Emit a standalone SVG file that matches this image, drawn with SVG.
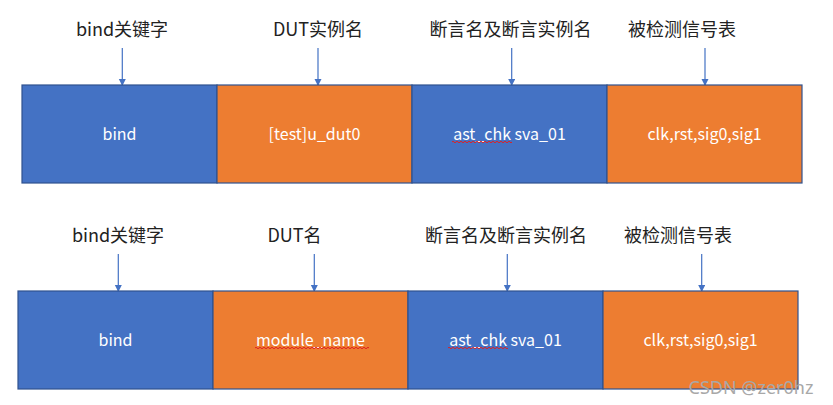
<svg xmlns="http://www.w3.org/2000/svg" width="833" height="405" viewBox="0 0 833 405">
<defs>
<marker id="ah" markerWidth="8" markerHeight="8" refX="6" refY="3.5" orient="auto" markerUnits="userSpaceOnUse">
<path d="M0,0 L7,3.5 L0,7 Z" fill="#4472C4"/>
</marker>
<style>
.blue{fill:#4472C4;stroke:#2F528F;stroke-width:1.2}
.orange{fill:#ED7D31;stroke:#2F528F;stroke-width:1.2}
.lbl{font-family:"Microsoft YaHei","Noto Sans CJK SC","Noto Sans",sans-serif;font-size:18px;fill:#222;text-anchor:middle}
.btxt{font-family:"Microsoft YaHei","Noto Sans CJK SC","Noto Sans",sans-serif;font-size:16px;fill:#fff;text-anchor:middle}
.arr{stroke:#4472C4;stroke-width:1.2;fill:none;marker-end:url(#ah)}
.sq{stroke:#E02020;stroke-width:1;fill:none}
</style>
</defs>
<rect width="833" height="405" fill="#fff"/>
<g id="labels-top">
<text class="lbl" x="122" y="36">bind关键字</text>
<text class="lbl" x="318" y="36">DUT实例名</text>
<text class="lbl" x="510.5" y="36">断言名及断言实例名</text>
<text class="lbl" x="682" y="36">被检测信号表</text>
</g>
<g id="labels-bottom">
<text class="lbl" x="118" y="242">bind关键字</text>
<text class="lbl" x="294.5" y="242">DUT名</text>
<text class="lbl" x="506" y="242">断言名及断言实例名</text>
<text class="lbl" x="678" y="242">被检测信号表</text>
</g>
<g id="connectors">
<line class="arr" x1="122.3" y1="48" x2="122.3" y2="85"/>
<line class="arr" x1="318" y1="48" x2="318" y2="85"/>
<line class="arr" x1="511.7" y1="48" x2="511.7" y2="85"/>
<line class="arr" x1="705" y1="48" x2="705" y2="85"/>
<line class="arr" x1="118.3" y1="254" x2="118.3" y2="291"/>
<line class="arr" x1="314.3" y1="254" x2="314.3" y2="291"/>
<line class="arr" x1="507.3" y1="254" x2="507.3" y2="291"/>
<line class="arr" x1="701.7" y1="254" x2="701.7" y2="291"/>
</g>
<g id="top-bind"><rect class="blue" x="22" y="85" width="195" height="98"/><text class="btxt" x="119.5" y="140">bind</text></g>
<g id="top-dut"><rect class="orange" x="217" y="85" width="195" height="98"/><text class="btxt" x="314.5" y="140">[test]u_dut0</text></g>
<g id="top-ast"><rect class="blue" x="412" y="85" width="195" height="98"/><text class="btxt" x="509.5" y="140">ast_chk sva_01</text>
<path class="sq" d="M452,142 q1,-1.5 2,0 t2,0 t2,0 t2,0 t2,0 t2,0 t2,0 t2,0 t2,0 t2,0 t2,0 t2,0 t2,0 t2,0 t2,0 t2,0 t2,0 t2,0 t2,0 t2,0 t2,0 t2,0 t2,0 t2,0 t2,0 t2,0 t2,0 t2,0 t2,0 t2,0"/></g>
<g id="top-sig"><rect class="orange" x="607" y="85" width="195" height="98"/><text class="btxt" x="704.5" y="140">clk,rst,sig0,sig1</text></g>
<g id="bot-bind"><rect class="blue" x="18" y="291" width="195" height="98"/><text class="btxt" x="115.5" y="346">bind</text></g>
<g id="bot-mod"><rect class="orange" x="213" y="291" width="195" height="98"/><text class="btxt" x="310.5" y="346">module_name</text>
<path class="sq" d="M255,348 q1,-1.5 2,0 t2,0 t2,0 t2,0 t2,0 t2,0 t2,0 t2,0 t2,0 t2,0 t2,0 t2,0 t2,0 t2,0 t2,0 t2,0 t2,0 t2,0 t2,0 t2,0 t2,0 t2,0 t2,0 t2,0 t2,0 t2,0 t2,0 t2,0 t2,0 t2,0 t2,0 t2,0 t2,0 t2,0 t2,0 t2,0 t2,0 t2,0 t2,0 t2,0 t2,0 t2,0 t2,0 t2,0 t2,0 t2,0 t2,0 t2,0 t2,0 t2,0 t2,0 t2,0 t2,0 t2,0 t2,0 t2,0 t2,0"/></g>
<g id="bot-ast"><rect class="blue" x="408" y="291" width="195" height="98"/><text class="btxt" x="505.5" y="346">ast_chk sva_01</text>
<path class="sq" d="M448,348 q1,-1.5 2,0 t2,0 t2,0 t2,0 t2,0 t2,0 t2,0 t2,0 t2,0 t2,0 t2,0 t2,0 t2,0 t2,0 t2,0 t2,0 t2,0 t2,0 t2,0 t2,0 t2,0 t2,0 t2,0 t2,0 t2,0 t2,0 t2,0 t2,0 t2,0 t2,0"/></g>
<g id="bot-sig"><rect class="orange" x="603" y="291" width="195" height="98"/><text class="btxt" x="700.5" y="346">clk,rst,sig0,sig1</text></g>
<text x="751" y="394" font-family="'Noto Sans','Liberation Sans',sans-serif" font-size="18" fill="#a8a8a8" text-anchor="middle">CSDN @zer0hz</text>
</svg>
